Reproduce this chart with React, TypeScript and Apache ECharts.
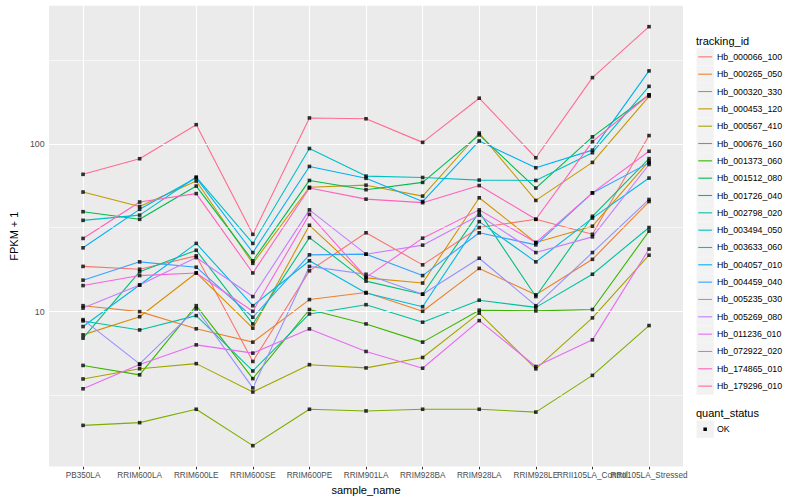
import React, { useEffect, useRef } from "react";
import * as echarts from "echarts";

const categories = [
  "PB350LA", "RRIM600LA", "RRIM600LE", "RRIM600SE", "RRIM600PE", "RRIM901LA",
  "RRIM928BA", "RRIM928LA", "RRIM928LE", "RRII105LA_Control", "RRII105LA_Stressed",
];

const trackingIds = [
  "Hb_000066_100", "Hb_000265_050", "Hb_000320_330", "Hb_000453_120", "Hb_000567_410",
  "Hb_000676_160", "Hb_001373_060", "Hb_001512_080", "Hb_001726_040", "Hb_002798_020",
  "Hb_003494_050", "Hb_003633_060", "Hb_004057_010", "Hb_004459_040", "Hb_005235_030",
  "Hb_005269_080", "Hb_011236_010", "Hb_072922_020", "Hb_174865_010", "Hb_179296_010",
];

const hueColors = [
  "#F8766D", "#EA8331", "#D89000", "#C09B00", "#A3A500", "#7CAE00", "#39B600", "#00BB4E",
  "#00BF7D", "#00C1A3", "#00BFC4", "#00BAE0", "#00B0F6", "#35A2FF", "#9590FF", "#C77CFF",
  "#E76BF3", "#FA62DB", "#FF62BC", "#FF6C91",
];

// FPKM + 1 values per tracking id, one per sample (in category order)
const hb_000066_100 = [18.6, 17.9, 21.5, 5.05, 17.5, 29.5, 19.0, 31.7, 35.5, 28.9, 112];
const hb_000265_050 = [10.85, 10.0, 7.9, 6.58, 11.8, 13.0, 10.05, 18.1, 12.6, 20.5, 45.3];
const hb_000320_330 = [7.27, 9.33, 17.0, 7.97, 32.7, 15.9, 14.8, 47.7, 25.8, 32.3, 78.8];
const hb_000453_120 = [51.6, 42.3, 60.0, 19.4, 55.1, 56.7, 48.8, 116, 46, 77.5, 192];
const hb_000567_410 = [3.97, 4.57, 4.9, 3.32, 4.83, 4.62, 5.33, 9.8, 4.56, 9.18, 21.7];
const hb_000676_160 = [2.1, 2.18, 2.62, 1.59, 2.62, 2.56, 2.62, 2.62, 2.52, 4.17, 8.26];
const hb_001373_060 = [4.78, 4.2, 10.85, 3.99, 10.3, 8.45, 6.58, 10.2, 10.1, 10.3, 30.2];
const hb_001512_080 = [39.4, 35.5, 56.0, 20.1, 60.5, 53.3, 58.9, 113, 54.5, 110, 196];
const hb_001726_040 = [6.95, 17.3, 23.2, 8.45, 27.6, 15.2, 12.7, 39.2, 12.3, 37, 81.6];
const hb_002798_020 = [8.8, 7.78, 9.47, 4.43, 9.69, 11.0, 8.65, 11.7, 10.6, 16.7, 31.7];
const hb_003494_050 = [35.0, 37.6, 63.4, 25.5, 93.8, 64.2, 63, 60.8, 60.5, 88.5, 220];
const hb_003633_060 = [8.15, 14.4, 25.5, 10.85, 20.1, 12.9, 10.7, 34.4, 19.8, 36.1, 62.5];
const hb_004057_010 = [24.0, 40.7, 62.7, 22.5, 73.3, 62.3, 45.3, 104, 72, 91.7, 272];
const hb_004459_040 = [15.4, 19.8, 18.4, 9.26, 21.8, 22.0, 16.4, 29.5, 25.0, 51, 77];
const hb_005235_030 = [8.96, 4.88, 10.4, 3.51, 18.6, 16.7, 12.7, 20.8, 10.85, 22.5, 46.6];
const hb_005269_080 = [10.5, 14.4, 21.0, 12.3, 40.4, 22.0, 24.9, 37.5, 22.5, 27.9, 75.3];
const hb_011236_010 = [3.47, 4.84, 6.34, 5.66, 7.89, 5.79, 4.6, 8.84, 4.71, 6.79, 23.6];
const hb_072922_020 = [14.3, 16.4, 17.0, 10.05, 38.0, 16.0, 27.4, 40.4, 25.8, 51, 90.3];
const hb_174865_010 = [27.3, 45, 50.5, 17.0, 54.5, 46.8, 44.6, 56.4, 35.5, 103, 196];
const hb_179296_010 = [65.8, 81.5, 130, 28.9, 142.6, 141, 102, 187, 82.6, 248, 499];

const seriesValues = [
  hb_000066_100, hb_000265_050, hb_000320_330, hb_000453_120, hb_000567_410,
  hb_000676_160, hb_001373_060, hb_001512_080, hb_001726_040, hb_002798_020,
  hb_003494_050, hb_003633_060, hb_004057_010, hb_004459_040, hb_005235_030,
  hb_005269_080, hb_011236_010, hb_072922_020, hb_174865_010, hb_179296_010,
];

// y tick labels (FPKM + 1) and minor breaks, on a log10 scale
const yTickLabels = [10, 100];
const yMinorBreaks = [Math.pow(10, 0.5), Math.pow(10, 1.5), Math.pow(10, 2.5)];

const FONT = "'Liberation Sans', Arial, Helvetica, sans-serif";

export default function App() {
  const ref = useRef<HTMLDivElement>(null);

  useEffect(() => {
    if (!ref.current) return;
    const chart = echarts.init(ref.current, undefined, { renderer: "svg" });

    const lg = (v: number) => Math.log10(v);
    const xIdx = categories.map((_, i) => i);
    const xEven = xIdx.filter((i) => i % 2 === 0);
    const xOdd = xIdx.filter((i) => i % 2 === 1);
    const yMajor = yTickLabels.map(lg);

    const gridLines: any[] = [];
    yMinorBreaks.forEach((v) =>
      gridLines.push({ yAxis: lg(v), lineStyle: { color: "#FFFFFF", width: 0.55, type: "solid" } })
    );
    yMajor.forEach((v) =>
      gridLines.push({ yAxis: v, lineStyle: { color: "#FFFFFF", width: 1.1, type: "solid" } })
    );
    xIdx.forEach((i) =>
      gridLines.push({ xAxis: i, lineStyle: { color: "#FFFFFF", width: 1.1, type: "solid" } })
    );

    const lineSeries = trackingIds.map((id, s) => ({
      name: id,
      type: "line",
      z: 3,
      showSymbol: false,
      symbol: "none",
      silent: true,
      lineStyle: { color: hueColors[s], width: 1.1 },
      itemStyle: { color: hueColors[s] },
      data: seriesValues[s].map((v, i) => [i, lg(v)]),
    }));

    const points: number[][] = [];
    seriesValues.forEach((arr) => arr.forEach((v, i) => points.push([i, lg(v)])));

    const legendChildren: any[] = [];
    legendChildren.push({
      type: "text",
      x: 696,
      y: 40.5,
      style: { text: "tracking_id", fontSize: 11, fill: "#000", fontFamily: FONT, verticalAlign: "middle" },
    });
    trackingIds.forEach((id, i) => {
      const top = 48.2 + 17.33 * i;
      const cy = top + 8.66;
      legendChildren.push({
        type: "rect",
        shape: { x: 696.5, y: top, width: 17.3, height: 17.3 },
        style: { fill: "#F2F2F2" },
      });
      legendChildren.push({
        type: "line",
        shape: { x1: 698.2, y1: cy, x2: 712.1, y2: cy },
        style: { stroke: hueColors[i], lineWidth: 1.1 },
      });
      legendChildren.push({
        type: "text",
        x: 717,
        y: cy,
        style: { text: id, fontSize: 8.8, fill: "#000", fontFamily: FONT, verticalAlign: "middle" },
      });
    });
    legendChildren.push({
      type: "text",
      x: 696,
      y: 412.5,
      style: { text: "quant_status", fontSize: 11, fill: "#000", fontFamily: FONT, verticalAlign: "middle" },
    });
    legendChildren.push({
      type: "rect",
      shape: { x: 696.5, y: 420.6, width: 17.3, height: 17.3 },
      style: { fill: "#F2F2F2" },
    });
    legendChildren.push({
      type: "rect",
      shape: { x: 703.4, y: 427.5, width: 3.5, height: 3.5 },
      style: { fill: "#000" },
    });
    legendChildren.push({
      type: "text",
      x: 717,
      y: 429.3,
      style: { text: "OK", fontSize: 8.8, fill: "#000", fontFamily: FONT, verticalAlign: "middle" },
    });

    const xAxisBase = (labelValues: number[], withName: boolean, withTicks: boolean) => ({
      type: "value",
      position: "bottom",
      min: -0.6,
      max: 10.6,
      name: withName ? "sample_name" : "",
      nameLocation: "middle",
      nameGap: 14,
      nameTextStyle: { fontSize: 11, color: "#000", fontFamily: FONT },
      axisLine: { show: false },
      splitLine: { show: false },
      axisTick: {
        show: withTicks,
        length: 2.75,
        lineStyle: { color: "#333333", width: 1 },
        customValues: xIdx,
      },
      axisLabel: {
        show: true,
        margin: 4.5,
        fontSize: 8.2,
        color: "#4D4D4D",
        fontFamily: FONT,
        customValues: labelValues,
        hideOverlap: false,
        formatter: (v: number) => categories[Math.round(v)] ?? "",
      },
    });

    const option: any = {
      animation: false,
      backgroundColor: "#FFFFFF",
      textStyle: { fontFamily: FONT },
      grid: {
        left: 40,
        right: 117,
        top: 5.7,
        bottom: 31.8,
        show: true,
        backgroundColor: "#EBEBEB",
        borderWidth: 0,
      },
      xAxis: [xAxisBase(xEven, true, true), xAxisBase(xOdd, false, false)],
      yAxis: {
        type: "value",
        min: 0.0766,
        max: 2.823,
        name: "FPKM + 1",
        nameLocation: "middle",
        nameGap: 27,
        nameRotate: 90,
        nameTextStyle: { fontSize: 11, color: "#000", fontFamily: FONT },
        axisLine: { show: false },
        splitLine: { show: false },
        axisTick: {
          show: true,
          length: 2.75,
          lineStyle: { color: "#333333", width: 1 },
          customValues: yMajor,
        },
        axisLabel: {
          show: true,
          margin: 4.5,
          fontSize: 8.8,
          color: "#4D4D4D",
          fontFamily: FONT,
          customValues: yMajor,
          formatter: (v: number) => String(Math.round(Math.pow(10, v))),
        },
      },
      graphic: [{ type: "group", children: legendChildren }],
      series: [
        {
          name: "grid",
          type: "line",
          z: 1,
          silent: true,
          data: [],
          markLine: {
            silent: true,
            symbol: ["none", "none"],
            label: { show: false },
            animation: false,
            data: gridLines,
          },
        },
        ...lineSeries,
        {
          name: "OK",
          type: "scatter",
          z: 5,
          silent: true,
          symbol: "rect",
          symbolSize: 3.6,
          itemStyle: { color: "#000000" },
          data: points,
        },
      ],
    };

    chart.setOption(option);
    return () => chart.dispose();
  }, []);

  return (
    <div
      ref={ref}
      style={{ position: "fixed", left: 0, top: 0, width: 800, height: 500 }}
    />
  );
}
